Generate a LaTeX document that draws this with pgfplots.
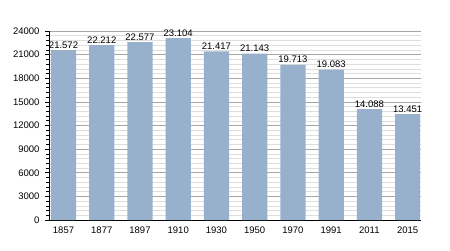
\documentclass[border=0pt]{standalone}
\usepackage{pgfplots}
\pgfplotsset{compat=1.18}
\usepackage{fontspec}
\setmainfont{Liberation Sans}
\definecolor{barblue}{HTML}{97B0CC}
\begin{document}
\begin{tikzpicture}
\useasboundingbox (0,0) rectangle (450pt,250pt);
\begin{axis}[
  at={(49pt,30pt)}, anchor=south west,
  scale only axis, width=372pt, height=189pt,
  xmin=-0.38, xmax=9.35,
  ymin=0, ymax=24000,
  ytick={0,3000,...,24000},
  minor y tick num=4,
  xtick={0,...,9},
  xticklabels={1857,1877,1897,1910,1930,1950,1970,1991,2011,2015},
  axis x line*=bottom, axis y line*=left,
  axis line style={black, line width=0.8pt, -},
  tick align=outside,
  major tick length=4pt, minor tick length=2.5pt,
  xtick style={draw=none},
  ytick style={black, line width=0.6pt},
  ymajorgrids, yminorgrids,
  major grid style={draw=black!35, line width=0.6pt},
  minor grid style={draw=black!13, line width=0.5pt},
  scaled y ticks=false,
  yticklabel={\pgfmathprintnumber[1000 sep={}]{\tick}},
  /pgf/number format/assume math mode=true,
  tick label style={font=\fontsize{9.5}{11}\selectfont, text=black},
  yticklabel style={xshift=-2pt},
  xticklabel style={yshift=1pt},
  ybar, bar width=0.66, bar shift=0pt,
  nodes near coords={\pgfmathprintnumber[1000 sep={.}]{\pgfplotspointmeta}},
  every node near coord/.append style={font=\fontsize{9.5}{11}\selectfont, text=black, inner sep=1.5pt},
  clip=false,
]
\addplot[fill=barblue, draw=none] coordinates {
(0,21572) (1,22212) (2,22577) (3,23104) (4,21417) (5,21143) (6,19713) (7,19083) (8,14088) (9,13451)};
\end{axis}
\end{tikzpicture}
\end{document}
